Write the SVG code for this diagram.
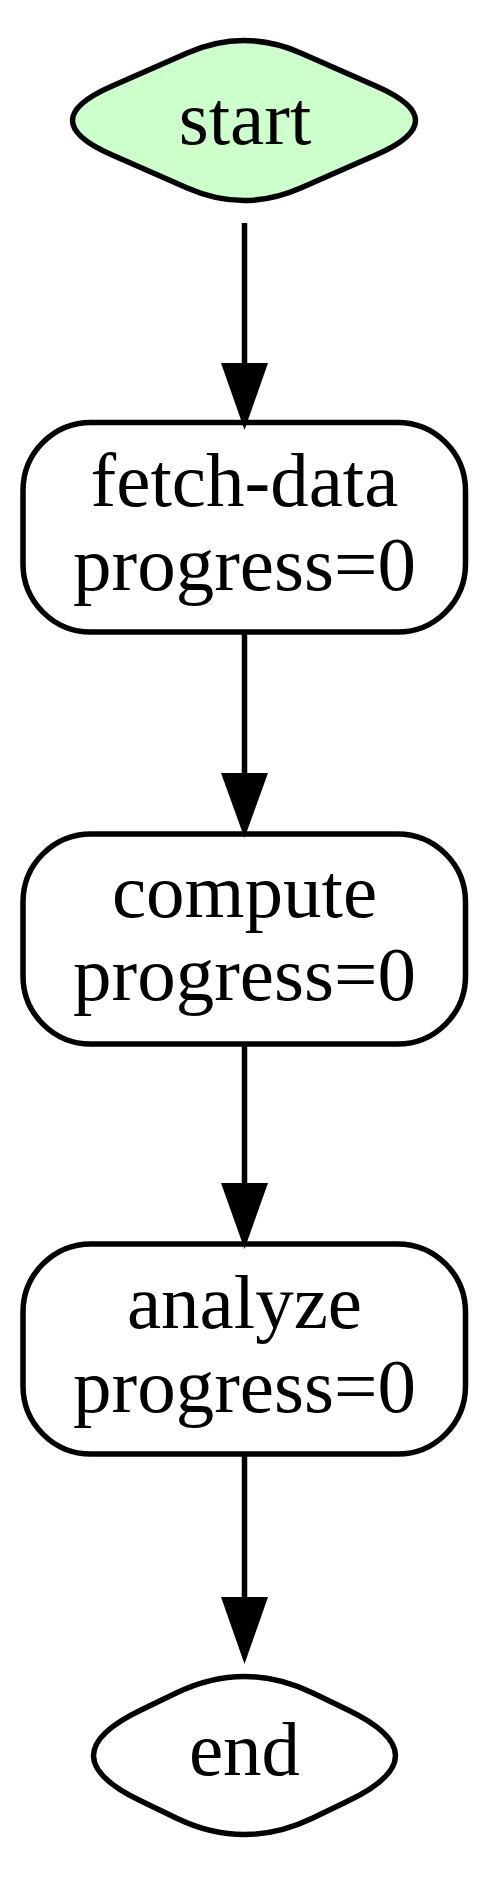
<svg xmlns="http://www.w3.org/2000/svg" width="488" height="1879" viewBox="0 0 488 1879">
<style>
.shape{stroke:#000;stroke-width:5.5;fill:#fff}
.start{fill:#ccffcc}
text{font-family:"Liberation Serif","Times New Roman",serif;font-size:77px;fill:#000;text-anchor:middle}
.edge{stroke:#000;stroke-width:5.5;fill:none}
.head{fill:#000;stroke:none}
</style>
<rect width="488" height="1879" fill="#fff"/>
<g id="start">
<path class="shape start" d="M187.3,53 Q244,28 300.7,53 L376.9,86.5 Q454.1,120.5 376.9,154.5 L300.7,188 Q244,213 187.3,188 L111.1,154.5 Q33.9,120.5 111.1,86.5 Z"/>
<text x="245" y="144">start</text>
</g>
<g id="fetch-data">
<rect class="shape" x="23" y="422.5" width="442.5" height="209.5" rx="68" ry="68"/>
<text x="244.5" y="506">fetch-data</text>
<text x="244.5" y="590">progress=0</text>
</g>
<g id="compute">
<rect class="shape" x="23" y="834" width="442.5" height="210" rx="68" ry="68"/>
<text x="244.5" y="917">compute</text>
<text x="244.5" y="1000">progress=0</text>
</g>
<g id="analyze">
<rect class="shape" x="23" y="1244" width="442.5" height="210" rx="68" ry="68"/>
<text x="244.5" y="1328">analyze</text>
<text x="244.5" y="1412">progress=0</text>
</g>
<g id="end">
<path class="shape" d="M176.7,1692.8 Q244.5,1660.2 312.3,1692.8 L348,1709.9 Q443,1755.5 348,1801.1 L312.3,1818.2 Q244.5,1850.8 176.7,1818.2 L141,1801.1 Q46,1755.5 141,1709.9 Z"/>
<text x="244.5" y="1775">end</text>
</g>
<g id="connectors">
<line class="edge" x1="244.5" y1="223" x2="244.5" y2="366"/>
<polygon class="head" points="221,363 268,363 244.5,430"/>
<line class="edge" x1="244.5" y1="632" x2="244.5" y2="776"/>
<polygon class="head" points="221,773 268,773 244.5,838"/>
<line class="edge" x1="244.5" y1="1044" x2="244.5" y2="1186"/>
<polygon class="head" points="221,1183 268,1183 244.5,1249"/>
<line class="edge" x1="244.5" y1="1454" x2="244.5" y2="1600"/>
<polygon class="head" points="221,1597 268,1597 244.5,1664"/>
</g>
</svg>
